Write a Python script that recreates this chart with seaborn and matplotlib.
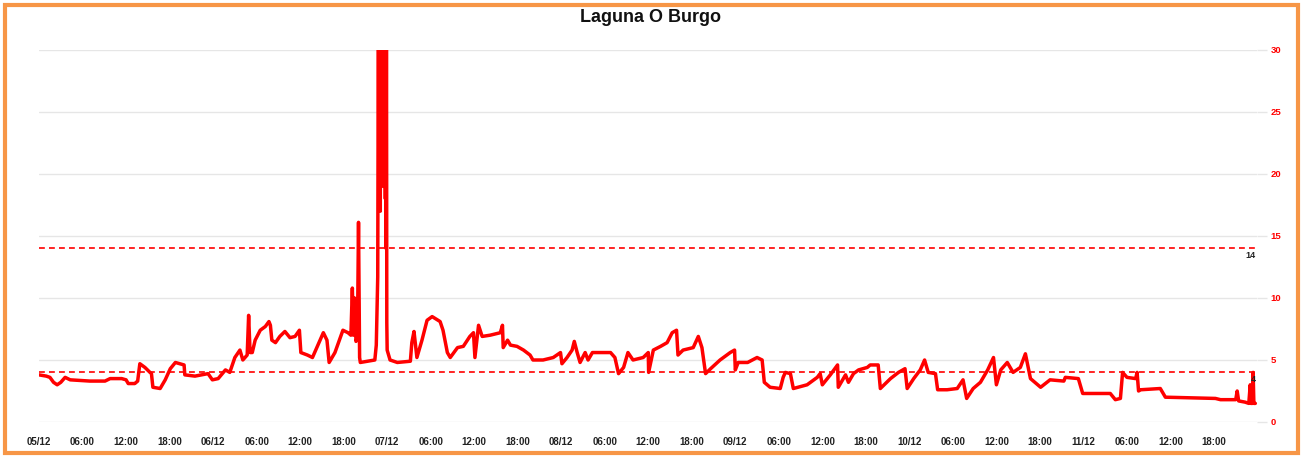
import pandas as pd
import seaborn as sns
import matplotlib.pyplot as plt
import matplotlib.dates as mdates
from matplotlib.patches import Rectangle

# Series: hours after 05/12 00:00 and the reading
start = pd.Timestamp('2023-12-05 00:00')
hours = [
    # 05/12
    0, 1.0, 1.5, 2.0, 2.5, 3.0, 3.6, 4.3, 7.0, 9.1, 9.8, 11.4, 12.0, 12.3, 13.2, 13.6,
    13.9, 14.6, 15.3, 15.5, 15.7, 16.7, 17.4, 18.1, 18.8, 19.4, 20.0, 20.1, 21.5, 23.3, 23.9,
    # 06/12
    24.7, 25.7, 26.3, 27.0, 27.7, 28.1, 28.7, 28.9, 29.1, 29.4, 29.8, 30.5, 31.2, 31.7, 31.9,
    32.1, 32.6, 33.2, 33.9, 34.6, 35.3, 35.9, 36.1, 37.0, 37.7, 38.3, 39.2, 39.7, 40.0, 40.8,
    41.9, 42.6, 43.0, 43.2, 43.35, 43.5, 43.7, 43.9, 44.05, 44.2, 44.3, 46.3, 46.5, 46.7,
    46.8, 46.85, 46.9, 46.95, 47.0, 47.05, 47.1, 47.15, 47.2, 47.25, 47.3, 47.35, 47.4,
    47.45, 47.5, 47.55, 47.6, 47.65, 47.7, 47.75, 47.8, 47.85, 47.9, 47.95, 48.0,
    # 07/12
    48.4, 49.4, 51.2, 51.4, 51.7, 52.1, 52.8, 53.5, 54.2, 55.3, 55.7, 56.0, 56.3, 56.7, 57.7,
    58.5, 59.4, 59.9, 60.1, 60.6, 61.1, 62.2, 63.6, 63.9, 64.0, 64.6, 65.0, 65.9, 66.8, 67.7,
    68.1, 69.5, 70.9, 71.9,
    # 08/12
    72.1, 72.8, 73.5, 73.8, 74.2, 74.6, 75.3, 75.7, 76.3, 77.4, 78.8, 79.4, 79.9, 80.6, 81.2,
    81.9, 83.3, 84.0, 84.05, 84.7, 85.7, 86.6, 87.3, 87.9, 88.1, 88.8, 90.2, 90.9, 91.4, 91.9,
    92.6, 93.9, 95.3, 95.9,
    # 09/12
    96.0, 96.4, 97.7, 99.0, 99.7, 100.0, 100.8, 102.2, 102.6, 102.9, 103.6, 104.0, 105.9,
    107.3, 107.7, 108.0, 109.1, 110.1, 110.2, 111.2, 111.6, 112.3, 113.0, 114.2, 114.6, 115.7,
    116.0, 117.4, 118.5, 119.4, 119.7,
    # 10/12
    120.6, 121.5, 122.1, 122.6, 123.6, 123.9, 125.2, 126.6, 127.4, 127.9, 128.8, 129.8, 130.8,
    131.6, 132.0, 132.6, 133.5, 134.3, 135.3, 136.0, 136.7, 138.1, 139.4, 141.3, 141.5, 143.3,
    # 11/12
    143.9, 147.7, 148.4, 149.1, 149.4, 150.0, 151.2, 151.4, 151.6, 151.9, 154.6, 155.3, 162.2,
    162.9, 165.0, 165.2, 165.4, 166.3, 166.8, 167.0, 167.1, 167.3, 167.4, 167.5, 167.7,
]
values = [
    # 05/12
    3.8, 3.7, 3.6, 3.2, 3.0, 3.2, 3.6, 3.4, 3.3, 3.3, 3.5, 3.5, 3.4, 3.1, 3.1, 3.3,
    4.7, 4.4, 4.0, 3.9, 2.8, 2.7, 3.4, 4.3, 4.8, 4.7, 4.6, 3.8, 3.7, 3.9, 3.4,
    # 06/12
    3.5, 4.2, 4.0, 5.2, 5.8, 5.0, 5.4, 8.6, 5.6, 5.6, 6.6, 7.4, 7.7, 8.1, 7.8,
    6.6, 6.4, 6.9, 7.3, 6.8, 6.9, 7.4, 5.6, 5.4, 5.2, 6.0, 7.2, 6.6, 4.8, 5.6,
    7.4, 7.2, 7.0, 10.8, 7.0, 10.0, 6.5, 6.8, 16.1, 5.2, 4.8, 5.0, 6.2, 11.7,
    36, 18, 36, 22, 36, 17, 36, 24, 36, 20, 36, 26, 36,
    19, 36, 25, 36, 21, 36, 18, 36, 14, 36, 8, 5.8,
    # 07/12
    5.0, 4.8, 4.9, 6.4, 7.3, 5.2, 6.6, 8.2, 8.5, 8.1, 7.4, 6.5, 5.6, 5.2, 6.0,
    6.1, 6.9, 7.2, 5.2, 7.8, 6.9, 7.0, 7.2, 7.8, 6.0, 6.6, 6.2, 6.1, 5.8, 5.4,
    5.0, 5.0, 5.2, 5.6,
    # 08/12
    4.7, 5.2, 5.8, 6.5, 5.6, 4.8, 5.6, 5.0, 5.6, 5.6, 5.6, 5.2, 3.9, 4.4, 5.6,
    5.0, 5.2, 5.6, 4.0, 5.8, 6.1, 6.4, 7.2, 7.4, 5.4, 5.8, 6.0, 6.9, 6.0, 3.9,
    4.3, 5.0, 5.6, 5.8,
    # 09/12
    4.2, 4.8, 4.8, 5.2, 5.0, 3.2, 2.8, 2.7, 3.6, 4.0, 3.9, 2.7, 3.0,
    3.6, 3.9, 3.0, 3.8, 4.6, 2.8, 3.8, 3.2, 3.9, 4.2, 4.4, 4.6, 4.6,
    2.7, 3.5, 4.0, 4.3, 2.7,
    # 10/12
    3.5, 4.2, 5.0, 4.0, 3.9, 2.6, 2.6, 2.7, 3.4, 1.9, 2.7, 3.2, 4.2,
    5.2, 3.0, 4.2, 4.8, 4.0, 4.4, 5.5, 3.5, 2.8, 3.4, 3.3, 3.6, 3.5,
    # 11/12
    2.3, 2.3, 1.8, 1.9, 4.0, 3.6, 3.5, 4.0, 2.5, 2.6, 2.7, 2.0, 1.9,
    1.8, 1.8, 2.5, 1.7, 1.6, 1.5, 3.0, 1.5, 1.5, 4.0, 1.5, 1.5,
]
thresholds = [14, 4]
y_ticks = [0, 5, 10, 15, 20, 25, 30]

df = pd.DataFrame({'time': start + pd.to_timedelta(hours, unit='h'), 'value': values})

sns.set_style('white')
plt.rcParams['font.family'] = ['Liberation Sans', 'DejaVu Sans']

fig = plt.figure(figsize=(13.01, 4.57), dpi=100)
ax = fig.add_axes([0.030, 0.0766, 0.936, 0.814])

for t in y_ticks:
    ax.axhline(t, color='#e6e6e6', lw=1, zorder=0)

sns.lineplot(data=df, x='time', y='value', color='#ff0000', linewidth=2.5, ax=ax, zorder=3)

x_end = start + pd.Timedelta(hours=167.9)
for t in thresholds:
    ax.axhline(t, color='#ff0000', lw=1.2, ls=(0, (3.5, 2.5)), zorder=2)
    ax.annotate(str(t), xy=(x_end, t), xytext=(-1, -2), textcoords='offset points',
                ha='right', va='top', fontsize=6.5, fontweight='bold', color='#222222', zorder=4)

ax.set_xlim(start, x_end)
ax.set_ylim(0, 30)
ax.set_yticks(y_ticks)
ax.yaxis.tick_right()
ax.tick_params(axis='y', colors='#e6e6e6', labelcolor='#ff0000', length=7, width=1,
               labelsize=6.8, pad=3)
for lab in ax.get_yticklabels():
    lab.set_fontweight('bold')

ax.xaxis.set_major_locator(mdates.HourLocator(byhour=[0, 6, 12, 18]))
def fmt(x, pos):
    d = mdates.num2date(x)
    return d.strftime('%d/%m') if d.hour == 0 else d.strftime('%H:%M')
ax.xaxis.set_major_formatter(plt.FuncFormatter(fmt))
ax.tick_params(axis='x', colors='#e6e6e6', labelcolor='#222222', length=7, width=1,
               labelsize=7, pad=4)
for lab in ax.get_xticklabels():
    lab.set_fontweight('bold')

for s in ax.spines.values():
    s.set_visible(False)
ax.set_xlabel('')
ax.set_ylabel('')

fig.text(0.5, 1 - 18 / 457, 'Laguna O Burgo', ha='center', va='center',
         fontsize=13, fontweight='bold', color='#111111')

fig.patches.append(Rectangle((0.0042, 0.008), 0.9935, 0.982, transform=fig.transFigure,
                             fill=False, edgecolor='#f79646', lw=3))

fig.savefig('out.png', dpi=100)
